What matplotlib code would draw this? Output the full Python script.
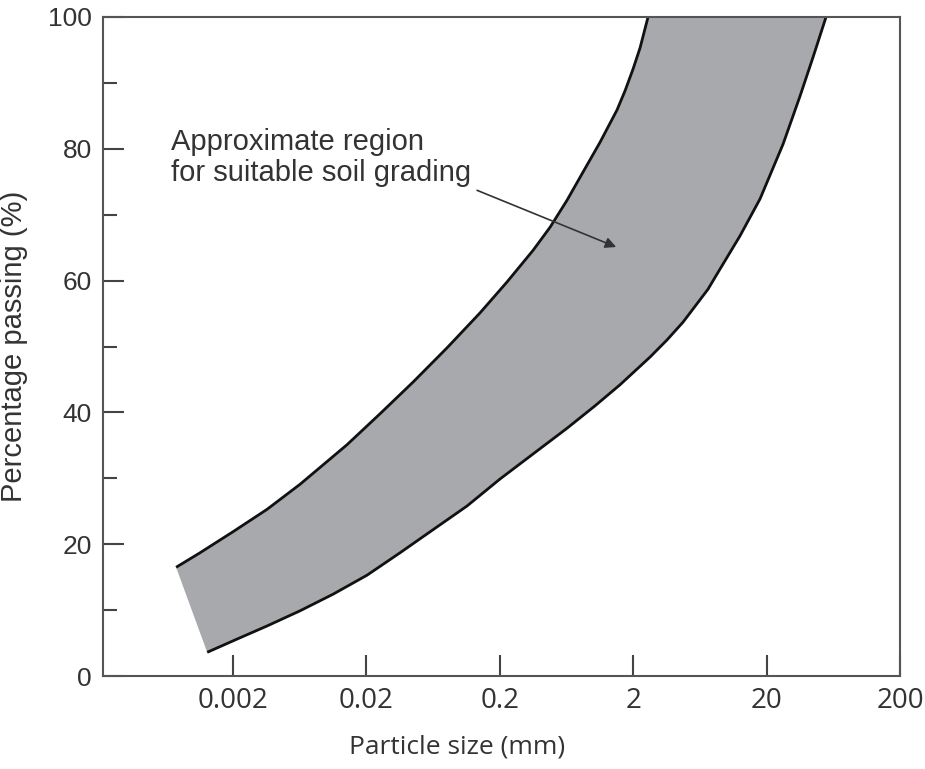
import matplotlib.pyplot as plt
import numpy as np

# upper (finer) boundary of the grading envelope
upper_size = [0.000748, 0.00092, 0.00113, 0.0020, 0.0036, 0.00636, 0.0143, 0.0253, 0.0447, 0.0804,
              0.142, 0.2265, 0.355, 0.476, 0.638, 0.826, 1.128, 1.512, 1.736, 1.993, 2.249, 2.582]
upper_pct = [16.5, 17.6, 18.7, 21.9, 25.3, 29.1, 35.1, 39.8, 44.6, 49.8,
             55.1, 59.8, 64.6, 68.1, 72.2, 76.2, 81.0, 85.9, 88.8, 92.1, 95.3, 100.0]

# lower (coarser) boundary of the grading envelope
lower_size = [0.00128, 0.00214, 0.0036, 0.00636, 0.0112, 0.0202, 0.0357, 0.0631, 0.1135, 0.2007,
              0.355, 0.638, 1.034, 1.593, 2.673, 3.584, 4.725, 6.337, 7.273, 8.497, 12.64, 17.85,
              26.55, 35.6, 44.56, 55.78]
lower_pct = [3.6, 5.6, 7.6, 9.9, 12.4, 15.3, 18.7, 22.2, 25.8, 29.9,
             33.7, 37.6, 41.0, 44.2, 48.4, 51.0, 53.7, 57.1, 58.7, 61.0, 66.8, 72.4,
             80.7, 88.0, 93.9, 100.0]

xticks = [0.002, 0.02, 0.2, 2, 20, 200]
xtick_labels = ["0.002", "0.02", "0.2", "2", "20", "200"]
yticks = [0, 20, 40, 60, 80, 100]

fig = plt.figure(figsize=(9.25, 7.69), dpi=100)
ax = fig.add_axes([0.1114, 0.1209, 0.8616, 0.857])

ax.fill(np.concatenate([upper_size, lower_size[::-1]]),
        np.concatenate([upper_pct, lower_pct[::-1]]),
        color="#a8a9ac", lw=0)
ax.plot(upper_size, upper_pct, color="#111111", lw=2.0, solid_capstyle="butt")
ax.plot(lower_size, lower_pct, color="#111111", lw=2.0, solid_capstyle="butt")

ax.set_xscale("log")
ax.set_xlim(0.000212, 200)
ax.set_ylim(0, 100)

ax.set_xticks(xticks)
ax.set_xticklabels(xtick_labels, family=["Open Sans", "DejaVu Sans"], fontsize=20, color="#333333")
ax.xaxis.set_minor_locator(plt.NullLocator())
ax.set_yticks(yticks)
ax.set_yticks([10, 30, 50, 70, 90], minor=True)
for lab in ax.get_yticklabels():
    lab.set_family(["Liberation Sans", "DejaVu Sans"])
    lab.set_fontsize(19)
    lab.set_color("#333333")

ax.tick_params(axis="both", which="major", direction="in", length=15, width=1.5,
               color="#444444", pad=8)
ax.tick_params(axis="y", which="minor", direction="in", length=10, width=1.5, color="#444444")
for s in ax.spines.values():
    s.set_color("#555555")
    s.set_linewidth(1.5)

ax.set_xlabel("Particle size (mm)", family=["Open Sans", "DejaVu Sans"], fontsize=19, color="#333333")
ax.xaxis.set_label_coords(0.444, -0.088)
ax.set_ylabel("Percentage passing (%)", family=["Liberation Sans", "DejaVu Sans"], fontsize=21, color="#333333")
ax.yaxis.set_label_coords(-0.094, 0.5)

ax.text(0.00068, 83.2, "Approximate region\nfor suitable soil grading",
        family=["Liberation Sans", "DejaVu Sans"], fontsize=21, color="#333333",
        ha="left", va="top", linespacing=1.15)
ax.annotate("", xy=(1.49, 65.1), xytext=(0.135, 73.7),
            arrowprops=dict(arrowstyle="-|>", color="#333333", lw=1.2, mutation_scale=16,
                            shrinkA=0, shrinkB=0))

fig.savefig("out.png", dpi=100)
